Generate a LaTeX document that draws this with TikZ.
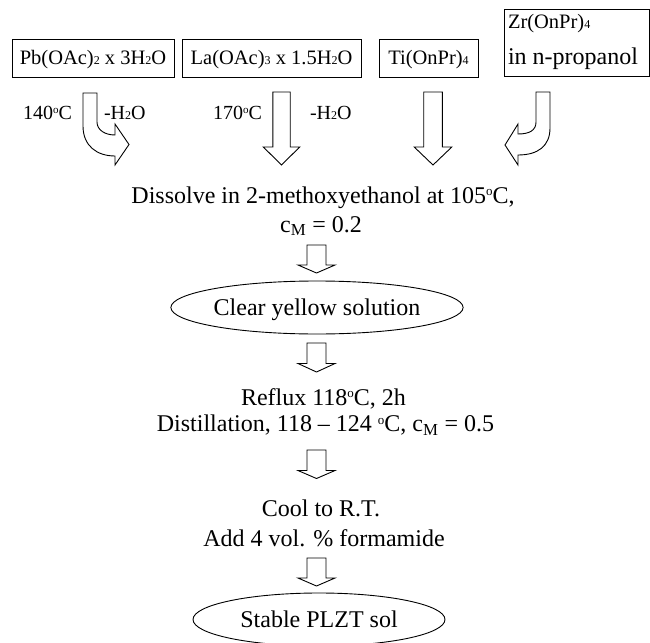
\documentclass[tikz,border=0pt]{standalone}
\usepackage{fontspec}
\setmainfont{Liberation Serif}
\usetikzlibrary{shapes.geometric}
\newcommand\lowsub[1]{{\fontsize{12}{12}\selectfont #1}}
\newcommand\degm{\raisebox{7.5pt}{\fontsize{13}{13}\selectfont o}}
\newcommand\degl{\raisebox{6pt}{\fontsize{11}{11}\selectfont o}}
\newcommand\blkdown[6]{\draw[barrow] (#1-#5,#2) -- (#1+#5,#2) -- (#1+#5,#3) -- (#1+#6,#3) -- (#1,#4) -- (#1-#6,#3) -- (#1-#5,#3) -- cycle;}
\begin{document}
\begin{tikzpicture}[x=1pt,y=-1pt,line width=0.9pt,
  every node/.style={inner sep=0pt,outer sep=0pt},
  box/.style={draw,rectangle,text height=14pt,text depth=0pt,font=\fontsize{20.5}{24}\selectfont},
  barrow/.style={draw,fill=white,line join=miter},
  main/.style={anchor=base,font=\fontsize{24}{28}\selectfont},
  lab/.style={anchor=base,font=\fontsize{20}{24}\selectfont},
  oval/.style={draw,ellipse,text height=15pt,text depth=0pt,font=\fontsize{24}{28}\selectfont}]
\useasboundingbox (0,0) rectangle (650,642);
% source boxes
\node[box,minimum width=162pt,minimum height=38pt] (pb) at (93,58) {Pb(OAc)\lowsub{2} x 3H\lowsub{2}O};
\node[box,minimum width=179pt,minimum height=38pt] (la) at (271.5,58) {La(OAc)\lowsub{3} x 1.5H\lowsub{2}O};
\node[box,minimum width=99pt,minimum height=38pt] (ti) at (428.5,58) {Ti(OnPr)\lowsub{4}};
\node[draw,rectangle,minimum width=145.5pt,minimum height=67pt] (zr) at (576.75,42.5) {};
\node[anchor=base west,font=\fontsize{20.5}{24}\selectfont] (zr1) at (508,29) {Zr(OnPr)\lowsub{4}};
\node[anchor=base west,font=\fontsize{24}{28}\selectfont] (zr2) at (508,64) {in n-propanol};
% labels
\node[lab] (t140) at (47.5,119) {140\degl C};
\node[lab,anchor=base west] (h1) at (104,119) {-H\lowsub{2}O};
\node[lab] (t170) at (237.5,119) {170\degl C};
\node[lab,anchor=base west] (h2) at (310,119) {-H\lowsub{2}O};
% top arrows
\draw[barrow] (83,93) -- (97,93) -- (97,122) .. controls (97,130) and (105,135) .. (115,135) -- (115,124) -- (129,144.5) -- (115,165) -- (115,156) .. controls (97,156) and (83,146) .. (83,126) -- cycle;
\blkdown{281.5}{92}{147}{165}{8.7}{18.2}
\blkdown{433}{92}{147}{165}{9.3}{18.8}
\draw[barrow] (536,92) -- (550,92) -- (550,128) .. controls (550,146) and (538,155) .. (518,155) -- (518,165) -- (505,145) -- (518,124) -- (518,134) .. controls (530,134) and (536,130) .. (536,122) -- cycle;
% main column
\node[main] (d1) at (323,203) {Dissolve in 2-methoxyethanol at 105\degm C,};
\node[main] (d2) at (321,232) {c\textsubscript{M} = 0.2};
\blkdown{316.5}{245}{265}{273}{9.5}{18.5}
\node[oval,minimum width=250pt,minimum height=53pt] (cys) at (317,307.5) {Clear yellow solution};
\blkdown{316.5}{343}{363.5}{372}{9.5}{18.5}
\node[main] (r1) at (323.5,405) {Reflux 118\degm C, 2h};
\node[main] (r2) at (325.5,431.7) {Distillation, 118 – 124 \degm C, c\textsubscript{M} = 0.5};
\blkdown{316.5}{450}{470.5}{478.5}{9.5}{18.5}
\node[main] (c1) at (321,516.7) {Cool to R.T.};
\node[main] (c2) at (324,546.7) {Add 4 vol. \% formamide};
\blkdown{316.5}{558}{578}{586}{9.5}{18.5}
\node[oval,minimum width=252pt,minimum height=53pt] (sps) at (319,619.5) {Stable PLZT sol};
\end{tikzpicture}
\end{document}
